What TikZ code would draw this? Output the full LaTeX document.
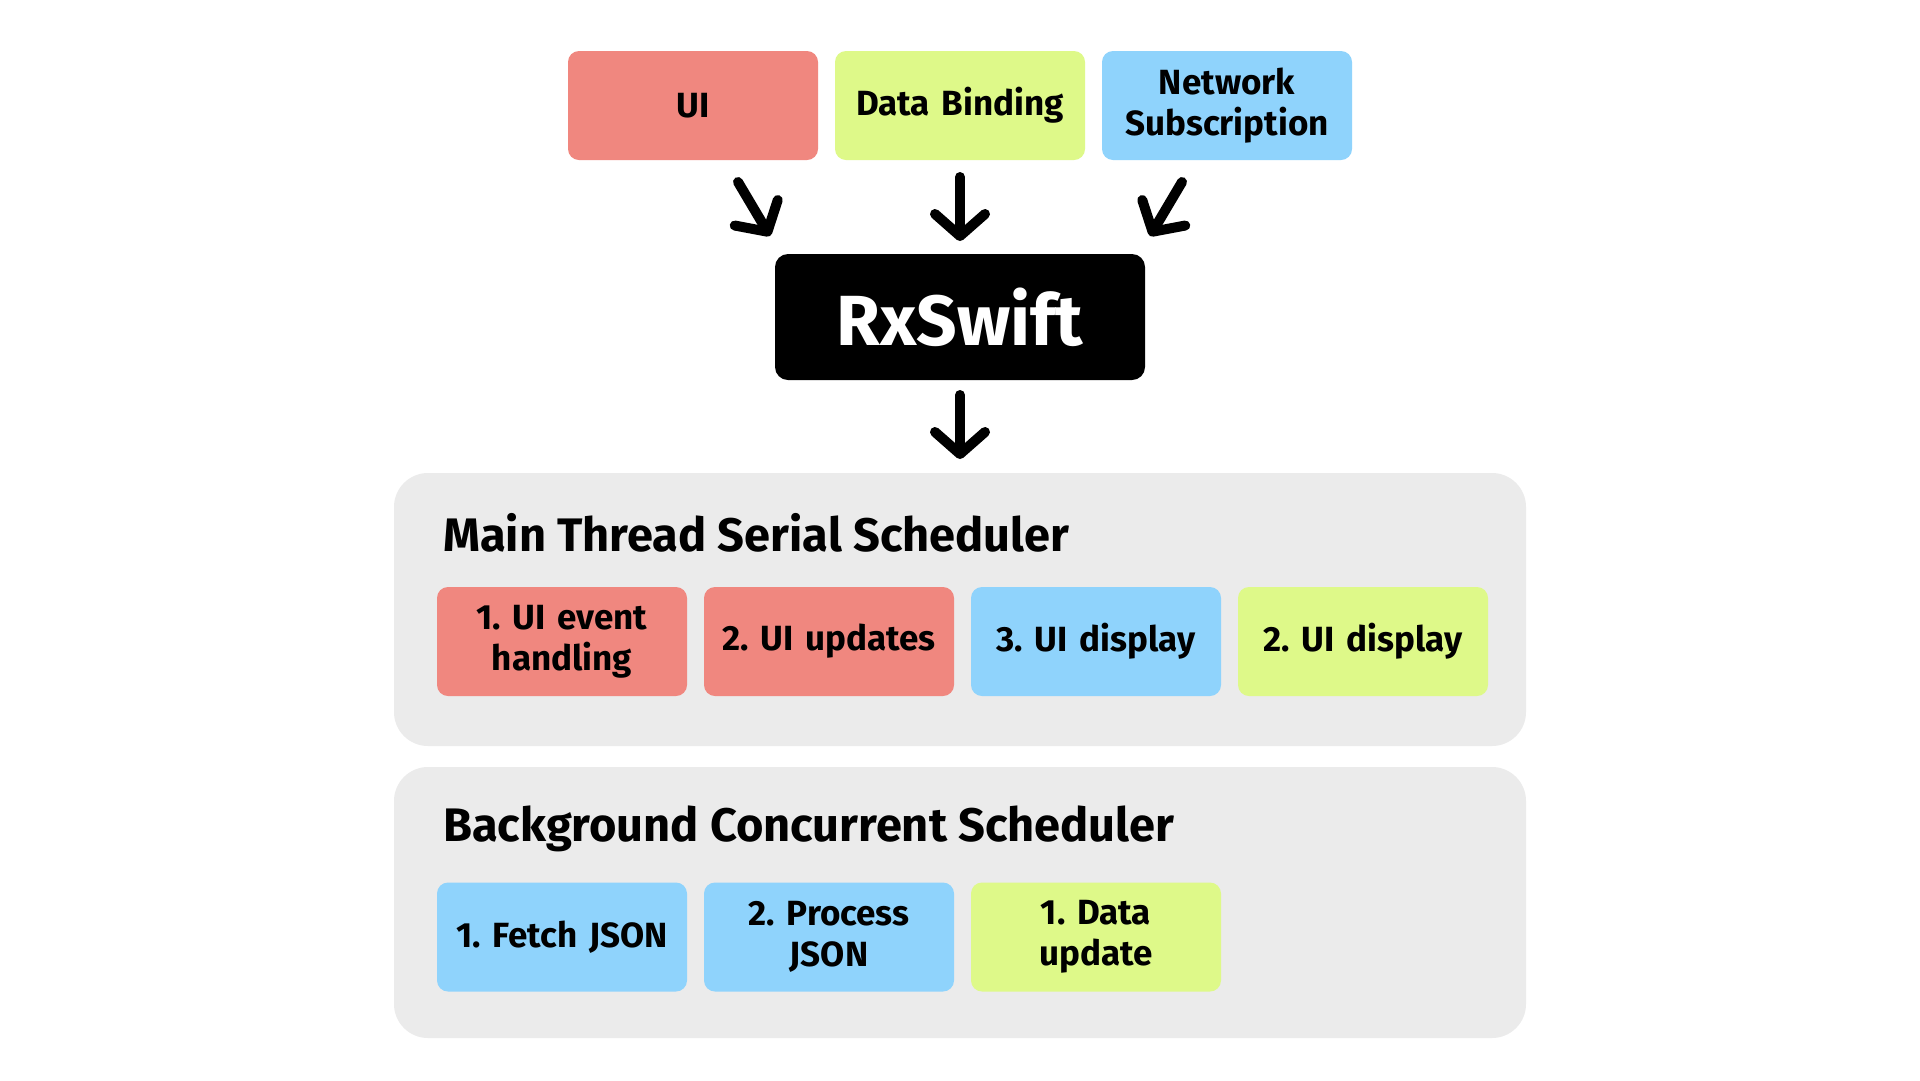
\documentclass[tikz,border=0pt]{standalone}
\usepackage{fontspec}
\setmainfont{Fira Sans}
\usetikzlibrary{arrows.meta}
\frenchspacing
\definecolor{cred}{RGB}{240,135,127}
\definecolor{cgreen}{RGB}{222,249,137}
\definecolor{cblue}{RGB}{143,211,252}
\definecolor{cgray}{RGB}{235,235,235}
\tikzset{
  x=1pt, y=-1pt,
  tbox/.style={rounded corners=11pt, minimum width=250pt, minimum height=109pt, inner sep=2pt,
    align=center, font=\fontsize{35}{41}\selectfont\bfseries, text width=246pt},
  panel/.style={fill=cgray, rounded corners=34pt, minimum width=1132pt, inner sep=0pt},
  ptitle/.style={anchor=base west, inner sep=0pt, font=\fontsize{47}{52}\selectfont\bfseries},
  bigarrow/.style={line width=10pt, line cap=round, -{Straight Barb[round, length=22pt, width=50pt]}}
}
\begin{document}
\begin{tikzpicture}
\useasboundingbox (0,0) rectangle (1920,1080);
\fill[white] (0,0) rectangle (1920,1080);
% top sources
\node[tbox, fill=cred] (ui) at (693,105.5) {UI};
\node[tbox, fill=cgreen] (db) at (960,105.5) {Data Binding};
\node[tbox, fill=cblue] (net) at (1227,105.5) {Network\\Subscription};
% RxSwift
\node[fill=black, rounded corners=13pt, minimum width=370pt, minimum height=126pt,
  text=white, font=\fontsize{71}{75}\selectfont\bfseries] (rx) at (960,317) {RxSwift};
% arrows
\coordinate (a1s) at (738,182); \coordinate (a1e) at (770,236);
\coordinate (a2s) at (960,177); \coordinate (a2e) at (960,241);
\coordinate (a3s) at (1182,182); \coordinate (a3e) at (1150,236);
\coordinate (a4s) at (960,395); \coordinate (a4e) at (960,459);
\draw[bigarrow] (a1s) -- (a1e);
\draw[bigarrow] (a2s) -- (a2e);
\draw[bigarrow] (a3s) -- (a3e);
\draw[bigarrow] (a4s) -- (a4e);
% main panel
\node[panel, minimum height=273pt] (main) at (960,609.5) {};
\node[ptitle] (maint) at (443,551) {Main Thread Serial Scheduler};
\node[tbox, fill=cred] (m1) at (562,641.5) {1. UI event\\handling};
\node[tbox, fill=cred] (m2) at (829,641.5) {2. UI updates};
\node[tbox, fill=cblue] (m3) at (1096,641.5) {3. UI display};
\node[tbox, fill=cgreen] (m4) at (1363,641.5) {2. UI display};
% background panel
\node[panel, minimum height=271pt] (bg) at (960,902.5) {};
\node[ptitle] (bgt) at (443,841) {Background Concurrent Scheduler};
\node[tbox, fill=cblue] (b1) at (562,937) {1. Fetch JSON};
\node[tbox, fill=cblue] (b2) at (829,937) {2. Process\\JSON};
\node[tbox, fill=cgreen] (b3) at (1096,937) {1. Data\\update};
\end{tikzpicture}
\end{document}
